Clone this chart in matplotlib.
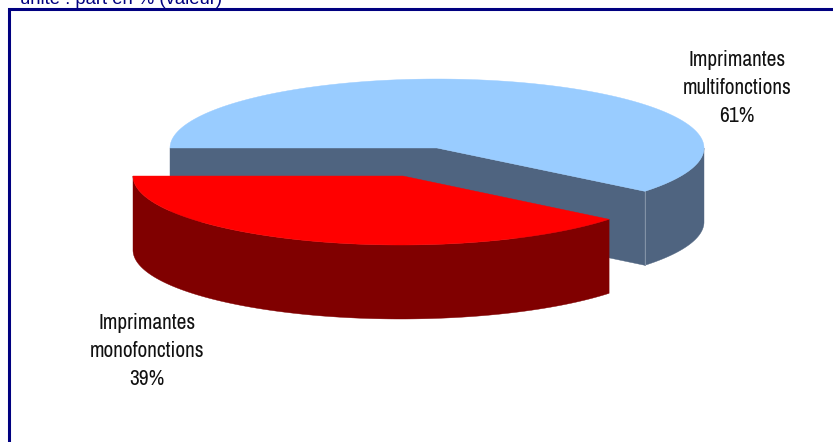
import numpy as np
import matplotlib
matplotlib.use("Agg")
import matplotlib.pyplot as plt
from matplotlib.patches import Polygon

# Data
categories = ["Imprimantes\nmonofonctions", "Imprimantes\nmultifonctions"]
shares = [39.2, 60.8]
title_text = "unité : part en % (valeur)"

# Style
LIGHT_BLUE, SLATE = "#99CCFF", "#4F6480"
RED, DARK_RED = "#FF0000", "#800000"
NAVY = "#000080"

fig = plt.figure(figsize=(8.33, 4.42), dpi=100)
ax = fig.add_axes([0, 0, 1, 1])
ax.set_xlim(0, 833)
ax.set_ylim(442, 0)
ax.axis("off")

RX, RY, DEPTH = 267.0, 69.0, 74.0


def rim(cx, cy, a0, a1, rx=RX, ry=RY, dy=0.0):
    t = np.radians(np.linspace(a0, a1, 240))
    return np.column_stack([cx + rx * np.cos(t), cy + ry * np.sin(t) + dy])


def poly(pts, color, z):
    ax.add_patch(Polygon(pts, closed=True, fc=color, ec=color, lw=0.3, zorder=z))


start = 180.0
blue_end = start + 360.0 * shares[1] / sum(shares)
red_end = start - 360.0 * shares[0] / sum(shares)

# Blue slice
bx, by = 437.0, 148.0
edge_a = rim(bx, by, start, start)[0]
edge_b = rim(bx, by, blue_end, blue_end)[0]
poly([(bx, by), edge_a, edge_a + (0, DEPTH), (bx, by + DEPTH)], SLATE, 1)
poly([(bx, by), edge_b, edge_b + (0, DEPTH), (bx, by + DEPTH)], SLATE, 1)
wall = rim(bx, by, blue_end, 360.0)
poly(np.vstack([wall, wall[::-1] + (0, DEPTH)]), SLATE, 2)
ax.plot([edge_b[0]] * 2, [edge_b[1], edge_b[1] + DEPTH], color="#8494A8", lw=0.7, zorder=3)
poly(np.vstack([[(bx, by)], rim(bx, by, start, blue_end)]), LIGHT_BLUE, 4)

# Red slice: apex sits slightly right of the ellipse centre (perspective)
ex, ey, RX2 = 400.7, 176.0, 267.7
apex = (403.0, ey)
wall = rim(ex, ey, start, red_end, rx=RX2)
poly(np.vstack([wall, wall[::-1] + (0, DEPTH)]), DARK_RED, 5)
poly(np.vstack([[apex], rim(ex, ey, start, red_end, rx=RX2)]), RED, 6)

# Frame: open at right and bottom
ax.plot([9.5, 9.5, 833], [442, 8.5, 8.5], color=NAVY, lw=2.2,
        solid_joinstyle="miter", solid_capstyle="butt", zorder=8)

ax.text(20, 3.5, title_text, family="Liberation Sans", fontsize=13.3, color=NAVY,
        ha="left", va="baseline", zorder=9)

lab = dict(family=["Archivo Narrow", "Liberation Sans"], fontsize=15.4, color="#111111",
           ha="center", va="center", linespacing=1.52, zorder=10)
ax.text(737, 88, f"{categories[1]}\n{round(shares[1])}%", **lab)
ax.text(147, 351, f"{categories[0]}\n{round(shares[0])}%", **lab)

fig.savefig("out.png", dpi=100)
